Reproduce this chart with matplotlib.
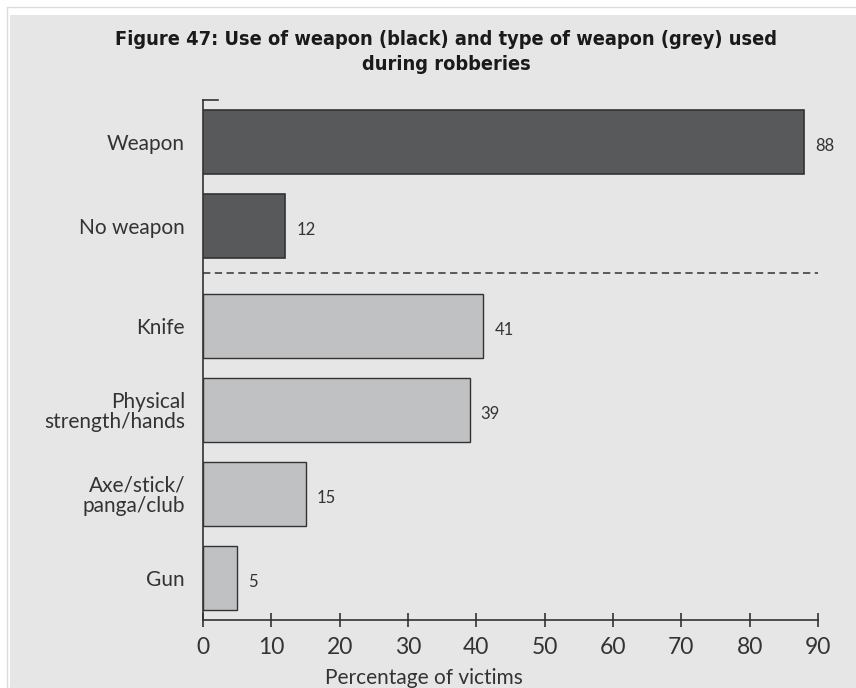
import numpy as np
import matplotlib.pyplot as plt
from matplotlib.patches import Rectangle

# data
use_labels = ["Weapon", "No weapon"]
use_values = [88, 12]
type_labels = ["Knife", "Physical\nstrength/hands", "Axe/stick/\npanga/club", "Gun"]
type_values = [41, 39, 15, 5]
x_ticks = [0, 10, 20, 30, 40, 50, 60, 70, 80, 90]

title = "Figure 47: Use of weapon (black) and type of weapon (grey) used\nduring robberies"

dark = "#58595b"
light = "#c0c1c3"
edge = "#333333"
panel = "#e6e6e6"
lab_font = ["Lato", "DejaVu Sans"]

fig = plt.figure(figsize=(8.56, 6.88), dpi=100)
fig.patch.set_facecolor("white")
W, H = 856, 688
# faint outer frame and grey panel
fig.patches.append(Rectangle((7 / W, 0), 1, 1 - 7 / H, transform=fig.transFigure,
                             facecolor="none", edgecolor="#dcdcdc", lw=1, zorder=-2))
fig.patches.append(Rectangle((10 / W, 0), 1, 1 - 15 / H, transform=fig.transFigure,
                             facecolor=panel, edgecolor="none", zorder=-1))

ax = fig.add_axes([203 / W, 1 - 620 / H, (818 - 203) / W, (620 - 100) / H])
ax.set_facecolor("none")

gap = 0.19
y_use = np.arange(len(use_values))
y_type = np.arange(len(type_values)) + len(use_values) + gap
bh = 0.76

ax.barh(y_use, use_values, height=bh, color=dark, edgecolor=edge, linewidth=1.2, zorder=3)
ax.barh(y_type, type_values, height=bh, color=light, edgecolor=edge, linewidth=1.0, zorder=3)

for y, v in zip(list(y_use) + list(y_type), use_values + type_values):
    ax.annotate(str(v), (v, y), xytext=(8, -3), textcoords="offset points",
                va="center", ha="left", fontsize=12, color="#333333", family=lab_font)

sep = (y_use[-1] + y_type[0]) / 2 - 0.04
ax.plot([0, 90], [sep, sep], color=edge, lw=1.1, dashes=(4.8, 2.9), zorder=2, clip_on=False)

ax.set_xlim(0, 90)
ax.set_ylim(len(use_values) + len(type_values) - 1 + gap + 0.5, -0.5)

ax.set_yticks(list(y_use) + list(y_type))
ax.set_yticklabels(use_labels + type_labels, fontsize=15, color="#333333",
                   family=lab_font, linespacing=1.0)
ax.tick_params(axis="y", length=0, pad=13)

ax.set_xticks(x_ticks)
ax.set_xticklabels([str(t) for t in x_ticks], fontsize=16.5, color="#333333", family=lab_font)
ax.tick_params(axis="x", direction="inout", length=10, width=1.2, color=edge, pad=7)
ax.set_xlabel("Percentage of victims", fontsize=15, color="#333333", family=lab_font)
# label is centred on the page rather than on the axis
ax.xaxis.set_label_coords((424 - 203) / (818 - 203), -(678 - 620) / (620 - 100))
ax.xaxis.label.set_va("center")

for s in ["top", "right"]:
    ax.spines[s].set_visible(False)
for s in ["left", "bottom"]:
    ax.spines[s].set_color(edge)
    ax.spines[s].set_linewidth(1.2)

# small cap at the top of the y axis
top = ax.get_ylim()[1]
ax.plot([0, 2.2], [top, top], color=edge, lw=1.2, clip_on=False, zorder=4)

fig.text(446 / W, 1 - 52 / H, title, ha="center", va="center", fontsize=14.3,
         fontweight="bold", fontstretch="condensed", family=["DejaVu Sans"],
         color="#1a1a1a", linespacing=1.4)

fig.savefig("out.png", dpi=100, facecolor=fig.get_facecolor())
